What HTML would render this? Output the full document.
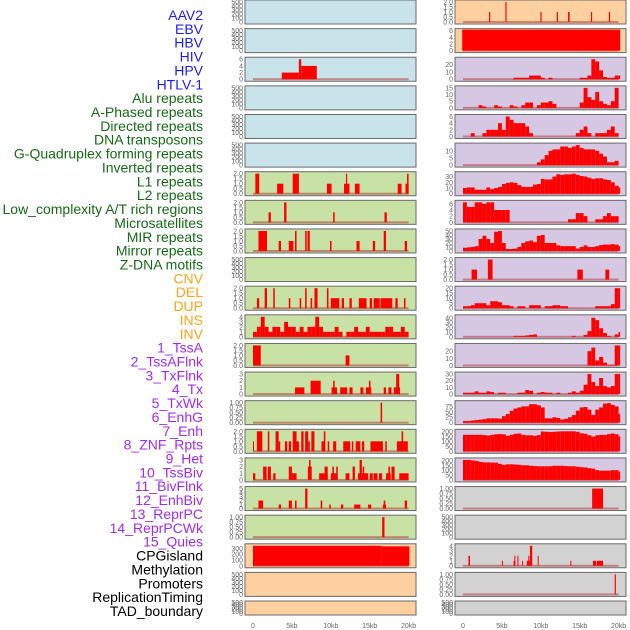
<!DOCTYPE html>
<html><head><meta charset="utf-8"><style>
html,body{margin:0;padding:0;background:#fff;}
svg{display:block;font-family:"Liberation Sans",sans-serif;}
</style></head><body>
<svg id="chart" width="630" height="630" viewBox="0 0 630 630" xmlns="http://www.w3.org/2000/svg">
<g id="labels"></g>
<g id="panels"></g>
<g id="xaxis"></g>
</svg>
<script>
// ---- labels ----
const labelNames=["AAV2","EBV","HBV","HIV","HPV","HTLV-1","Alu repeats","A-Phased repeats","Directed repeats","DNA transposons","G-Quadruplex forming repeats","Inverted repeats","L1 repeats","L2 repeats","Low_complexity A/T rich regions","Microsatellites","MIR repeats","Mirror repeats","Z-DNA motifs","CNV","DEL","DUP","INS","INV","1_TssA","2_TssAFlnk","3_TxFlnk","4_Tx","5_TxWk","6_EnhG","7_Enh","8_ZNF_Rpts","9_Het","10_TssBiv","11_BivFlnk","12_EnhBiv","13_ReprPC","14_ReprPCWk","15_Quies","CPGisland","Methylation","Promoters","ReplicationTiming","TAD_boundary"];
const labelGroups=[0,0,0,0,0,0,1,1,1,1,1,1,1,1,1,1,1,1,1,2,2,2,2,2,3,3,3,3,3,3,3,3,3,3,3,3,3,3,3,4,4,4,4,4];
const xTickLabels=["0","5kb","10kb","15kb","20kb"];
const xTickValues=[0,5,10,15,20];

// ---- segment data (start kb, end kb, value) ----
const l02Start=[3.7,5.9,6.2], l02End=[5.9,6.2,8.2], l02Val=[2,6,4];
const l06Start=[0.3,3.1,5.1,9.5,11.7,11.95,13.1,18.6,19.6,19.8], l06End=[0.8,3.9,5.9,10.1,12.4,12.1,13.7,19.1,20.0,20.0], l06Val=[2,1,2,1,1,2,1,1,1,2];
const l07Start=[2.0,4.0,10.3,16.9], l07End=[2.3,4.3,10.5,17.2], l07Val=[1,2,1,1];
const l08Start=[0.7,3.3,4.6,5.4,6.7,7.0,9.9,13.3,15.4,16.8,19.5], l08End=[1.8,3.6,5.2,5.6,6.9,7.3,10.1,13.7,15.7,17.1,19.8], l08Val=[2,1,1,2,2,2,1,1,1,2,1];
const l10Start=[0.5,1.5,2.6,4.6,6.0,6.7,7.4,7.9,9.5,10.0,11.4,12.4,13.6,15.0,15.5,16.4,18.3,19.4], l10End=[0.8,1.8,2.8,4.8,6.2,6.9,7.6,8.3,9.7,11.1,11.7,12.7,14.6,15.3,16.3,17.9,18.6,19.6], l10Val=[1,2,2,1,1,2,1,2,2,1,1,1,1,1,1,1,1,1];
const l12Start=[0,11.9], l12End=[1.0,12.4], l12Val=[2,1];
const l13Start=[5.4,7.4,10.1,10.3,11.2,12.4,13.8,14.5,14.9,16.8,17.4,18.1,18.4], l13End=[6.6,8.7,10.8,10.5,12.1,12.8,14.2,15.2,15.1,17.1,17.8,18.9,18.8], l13Val=[1,2,1,2,1,1,1,1,2,1,1,1,3];
const l14Start=[16.4], l14End=[16.6], l14Val=[1];
const l15Start=[0,0.5,1.9,2.9,3.3,4.1,4.6,5.1,5.5,6.2,6.7,7.1,7.5,8.8,9.1,9.6,10.3,11.6,12.7,13.2,14.0,15.1,17.0,18.5,19.1], l15End=[0.1,1.2,2.1,3.3,3.5,4.4,4.9,5.6,5.9,6.5,7.1,7.3,7.9,9.2,9.3,9.8,10.7,12.5,12.9,13.8,14.3,16.7,17.2,19.9,19.3], l15Val=[1,2,2,2,1,1,1,2,1,2,2,1,2,1,2,1,1,1,1,1,1,1,1,1,2];
const l16Start=[0,1.3,1.9,2.6,4.6,5.0,7.05,7.2,8.5,9.2,10.0,10.2,10.7,11.9,12.8,13.5,13.7,14.1,15.0,15.5,16.2,17.1,17.4,17.8,18.8], l16End=[0.3,1.75,2.3,2.9,5.0,5.6,7.55,7.4,9.6,9.6,10.8,10.4,10.9,12.4,13.1,14.8,14.0,14.3,15.4,16.0,16.6,17.7,17.6,18.2,20.0], l16Val=[1,2,2,1,2,1,2,3,1,2,1,2,2,1,2,1,3,2,1,1,1,1,2,2,1];
const l17Start=[0.7,3.3,4.6,5.4,6.7,8.7,9.8,11.3,13.0,14.8,16.7,16.8,19.5], l17End=[1.3,3.6,5.0,5.6,7.0,8.9,10.0,11.6,13.8,15.2,17.1,17.0,19.8], l17Val=[2,1,2,2,5,2,1,1,1,1,1,2,2];
const l18Start=[16.6], l18End=[16.9], l18Val=[1];
const l19Start=[0,16.5], l19End=[16.5,20.1], l19Val=[345,335];
const r00Start=[3.35,5.45,9.95,12.05,13.5,16.45,18.75], r00End=[3.5,5.6,10.1,12.2,13.7,16.6,18.9], r00Val=[1,2,1,1,1,1,1];
const r01Start=[-0.1], r01End=[20.2], r01Val=[6.3];
const r09Start=[1.1,3.2,14.7,18.3], r09End=[1.8,3.8,15.4,18.8], r09Val=[1,2,1,1];
const r17Start=[16.6], r17End=[18.0], r17Val=[1];
const r19Start=[0.7,5.0,6.5,6.6,7.0,7.6,8.2,8.4,8.6,9.6,13.8,16.7,17.2], r19End=[0.9,5.1,6.7,6.7,7.1,7.7,8.6,8.5,8.9,9.7,13.9,17.1,18.0], r19Val=[2,1,1,2,2,1,1,2,4,2,1,1,1];
const r20Start=[19.5], r20End=[19.65], r20Val=[1];

// ---- binned data (0.5 kb bins from 0) ----
const l11Bins=[1,2,4,2,1,2,2,1,3,2,2,1,2,1,2,2,4,2,1,1,1,2,1,0,1,1,2,1,1,2,1,1,1,1,2,2,1,1,2,1];
const r02Bins=[0,0,0,0,0,0,0,0,0,0,0,0,0,2,2,2,2,5,5,5,2,0,2,0,0,0,0,0,0,0,2,2,5,27,24,12,3,2,2,5,5];
const r03Bins=[0,0,0,0,2,1,0,0,2,1,0,0,2,1,0,2,4,4,0,2,4,4,5,3,0,0,0,0,0,0,4,15,8,6,12,5,3,2,5,15,0];
const r04Bins=[0,0,1,0,0,1,2,2,2,4,2,6,5,4,4,4,3,1,0,0,0,0,0,0,0,0,0,0,0,1,2,3,1,0,1,1,1,2,3,1,0];
const r05Bins=[0,0,0,0,0,0,0,0,0,0,0,0,0,0,0,0,0,0,0,2,4,7,10,11,11,13,13,12,13,14,12,11,11,11,10,8,6,2,2,3,0];
const r06Bins=[10,11,11,7,7,7,11,8,10,12,17,19,20,19,15,12,12,12,16,17,26,25,25,30,34,33,34,34,35,33,31,30,28,26,27,27,25,24,20,14,11];
const r07Bins=[6.5,5,5,6.5,6.5,6,6.5,6.5,4,4,4,4,0,0,0,0,0,0,0,0,0,0,0,0,0,0,0,1,1,3,3,2,0,0,1,1,2,3,2,2,0];
const r08Bins=[8,9,10,12,30,38,30,20,48,50,20,5,5,6,10,20,24,26,22,38,40,20,20,20,14,12,12,12,12,6,10,14,10,10,12,15,16,16,17,16,12];
const r10Bins=[2,2,3,5,5,5,3,7,7,6,3,3,2,0,2,2,0,3,3,3,0,2,2,3,3,2,2,0,0,0,0,0,0,0,2,2,2,2,4,20,20];
const r11Bins=[0,0,0,0,0,0,0,0,0,0,0,0,0,2,2,2,3,4,5,0,0,0,0,0,0,0,0,0,2,0,0,4,12,40,35,18,8,2,0,5,10];
const r12Bins=[0,0,0,0,0,0,0,0,0,0,0,0,0,0,0,0,0,0,0,0,0,0,0,0,0,0,0,0,0,0,0,0,20,25,7,12,4,1,1,28,28];
const r13Bins=[2,2,2,4,2,2,4,3,0,2,2,0,0,0,2,2,6,5,0,2,3,2,2,0,2,0,0,2,4,2,5,14,30,18,12,24,12,10,12,30,30];
const r14Bins=[8,8,10,12,14,16,20,20,20,18,30,40,55,65,70,75,75,85,85,80,70,20,20,25,22,15,18,25,35,55,70,72,60,35,60,70,88,90,82,75,40];
const r15Bins=[165,165,165,165,165,162,158,165,170,172,170,155,165,175,178,165,160,160,155,162,198,195,192,195,198,200,200,200,200,195,180,175,160,148,160,165,163,172,178,170,150];
const r16Bins=[205,205,200,195,185,180,180,178,178,165,155,160,160,158,155,150,150,145,142,140,140,140,140,145,145,145,142,140,140,135,130,128,120,115,100,95,95,95,100,100,85];

// ---- tick label sets ----
const ticksEmpty=["0","100","200","300","400","500"];
const ticks2=["0.0","0.5","1.0","1.5","2.0"];
const ticks1=["0.00","0.25","0.50","0.75","1.00"];

const BG={blue:"#c8e3ea",green:"#c8e1a5",peach:"#fed09f",lav:"#d6c7e3",gray:"#d2d2d2"};
const panelCfg=[
 // left column
 {s:0,r:0,bg:"blue"},{s:0,r:1,bg:"blue"},
 {s:0,r:2,bg:"blue",st:l02Start,en:l02End,v:l02Val,top:6,t:["0","2","4","6"]},
 {s:0,r:3,bg:"blue"},{s:0,r:4,bg:"blue"},{s:0,r:5,bg:"blue"},
 {s:0,r:6,bg:"green",st:l06Start,en:l06End,v:l06Val,top:2,t:ticks2},
 {s:0,r:7,bg:"green",st:l07Start,en:l07End,v:l07Val,top:2,t:ticks2},
 {s:0,r:8,bg:"green",st:l08Start,en:l08End,v:l08Val,top:2,t:ticks2},
 {s:0,r:9,bg:"green"},
 {s:0,r:10,bg:"green",st:l10Start,en:l10End,v:l10Val,top:2,t:ticks2},
 {s:0,r:11,bg:"green",bins:l11Bins,top:4,t:["0","1","2","3","4"]},
 {s:0,r:12,bg:"green",st:l12Start,en:l12End,v:l12Val,top:2,t:ticks2},
 {s:0,r:13,bg:"green",st:l13Start,en:l13End,v:l13Val,top:3,t:["0","1","2","3"]},
 {s:0,r:14,bg:"green",st:l14Start,en:l14End,v:l14Val,top:1,t:ticks1},
 {s:0,r:15,bg:"green",st:l15Start,en:l15End,v:l15Val,top:2,t:ticks2},
 {s:0,r:16,bg:"green",st:l16Start,en:l16End,v:l16Val,top:3,t:["0","1","2","3"]},
 {s:0,r:17,bg:"green",st:l17Start,en:l17End,v:l17Val,top:5,t:["0","1","2","3","4","5"]},
 {s:0,r:18,bg:"green",st:l18Start,en:l18End,v:l18Val,top:1,t:ticks1},
 {s:0,r:19,bg:"peach",st:l19Start,en:l19End,v:l19Val,top:345,t:["0","100","200","300"]},
 {s:0,r:20,bg:"peach"},{s:0,r:21,bg:"peach"},
 // right column
 {s:1,r:0,bg:"peach",st:r00Start,en:r00End,v:r00Val,top:2,t:ticks2},
 {s:1,r:1,bg:"peach",st:r01Start,en:r01End,v:r01Val,top:6,t:["0","2","4","6"]},
 {s:1,r:2,bg:"lav",bins:r02Bins,top:27,t:["0","10","20"]},
 {s:1,r:3,bg:"lav",bins:r03Bins,top:15,t:["0","5","10","15"]},
 {s:1,r:4,bg:"lav",bins:r04Bins,top:6,t:["0","2","4","6"]},
 {s:1,r:5,bg:"lav",bins:r05Bins,top:14,t:["0","5","10"]},
 {s:1,r:6,bg:"lav",bins:r06Bins,top:35,t:["0","10","20","30"]},
 {s:1,r:7,bg:"lav",bins:r07Bins,top:6.5,t:["0","2","4","6"]},
 {s:1,r:8,bg:"lav",bins:r08Bins,top:50,t:["0","10","20","30","40","50"]},
 {s:1,r:9,bg:"lav",st:r09Start,en:r09End,v:r09Val,top:2,t:ticks2},
 {s:1,r:10,bg:"lav",bins:r10Bins,top:20,t:["0","5","10","15","20"]},
 {s:1,r:11,bg:"lav",bins:r11Bins,top:42,t:["0","10","20","30","40"]},
 {s:1,r:12,bg:"lav",bins:r12Bins,top:28,t:["0","10","20"]},
 {s:1,r:13,bg:"lav",bins:r13Bins,top:30,t:["0","10","20","30"]},
 {s:1,r:14,bg:"lav",bins:r14Bins,top:92,t:["0","25","50","75"]},
 {s:1,r:15,bg:"lav",bins:r15Bins,top:200,t:["0","50","100","150","200"]},
 {s:1,r:16,bg:"lav",bins:r16Bins,top:205,t:["0","50","100","150","200"]},
 {s:1,r:17,bg:"gray",st:r17Start,en:r17End,v:r17Val,top:1,t:ticks1},
 {s:1,r:18,bg:"gray"},
 {s:1,r:19,bg:"gray",st:r19Start,en:r19End,v:r19Val,top:4,t:["0","1","2","3","4"]},
 {s:1,r:20,bg:"gray",st:r20Start,en:r20End,v:r20Val,top:1,t:ticks1},
 {s:1,r:21,bg:"gray"}
];

const NS="http://www.w3.org/2000/svg";
function mk(tag,attrs,parent){const e=document.createElementNS(NS,tag);for(const k in attrs)e.setAttribute(k,attrs[k]);parent.appendChild(e);return e;}
const labelColors=["#1c1cf5","#156b15","#ffa41a","#a12cf0","#000000"];

const gL=document.getElementById("labels");
labelNames.forEach((n,i)=>{
  const t=mk("text",{x:203,y:20+i*13.86,"text-anchor":"end","font-size":"14",fill:labelColors[labelGroups[i]]},gL);
  
  
  t.textContent=n;
});

const PX0=[245,455], PW=171, DX0=[253,463], KBPX=7.78;
function xs(side,kb){return Math.max(PX0[side]+0.5,Math.min(PX0[side]+PW-0.5,DX0[side]+kb*KBPX));}
function rowTop(r){return r*28.62;}
function rowH(r){return r===21?14:24;}
function ys(p,v){const top=rowTop(p.r),h=rowH(p.r);const T=p.top||500;const y=top+h-1-((v+0.05*T)/(1.1*T))*(h-2);return Math.max(top+0.5,y);}

const gP=document.getElementById("panels");
panelCfg.forEach(p=>{
  const g=mk("g",{},gP);
  
  
  const top=rowTop(p.r),h=rowH(p.r),x0=PX0[p.s];
  const bg=mk("rect",{x:x0,y:top,width:PW,height:h,fill:BG[p.bg],stroke:"#6a6a6a","stroke-width":1},g);
  
  
  const tl=p.t||ticksEmpty;
  tl.forEach(s=>{
    const v=parseFloat(s);
    const tt=mk("text",{x:x0-2,y:ys(p,v)+2.5,"text-anchor":"end","font-size":"7",fill:"#666"},g);
    
    
    tt.textContent=s;
  });
  if(!p.t) return;
  const y0=ys(p,0);
  const bl=mk("rect",{x:xs(p.s,0),y:y0-1,width:xs(p.s,20)-xs(p.s,0),height:2,fill:"rgba(180,60,60,0.55)"},g);
  
  
  function bar(a,b,v){
    if(v<=0) return;
    const xa=xs(p.s,a),xb=xs(p.s,b),yv=ys(p,v);
    const r=mk("rect",{x:xa,y:yv,width:Math.max(1,xb-xa),height:Math.max(0,y0-yv),fill:"#ff0000"},g);
    
    
  }
  if(p.bins){
    p.bins.forEach((v,k)=>{bar(k*0.5,Math.min((k+1)*0.5,20.2),v);});
  } else {
    p.st.forEach((a,k)=>{bar(a,p.en[k],p.v[k]);});
  }
});

const gX=document.getElementById("xaxis");
[0,1].forEach(side=>{
  xTickValues.forEach((v,i)=>{
    const t=mk("text",{x:DX0[side]+v*KBPX,y:628,"text-anchor":"middle","font-size":"7",fill:"#666"},gX);
    
    
    t.textContent=xTickLabels[i];
  });
});
</script>
</body></html>
